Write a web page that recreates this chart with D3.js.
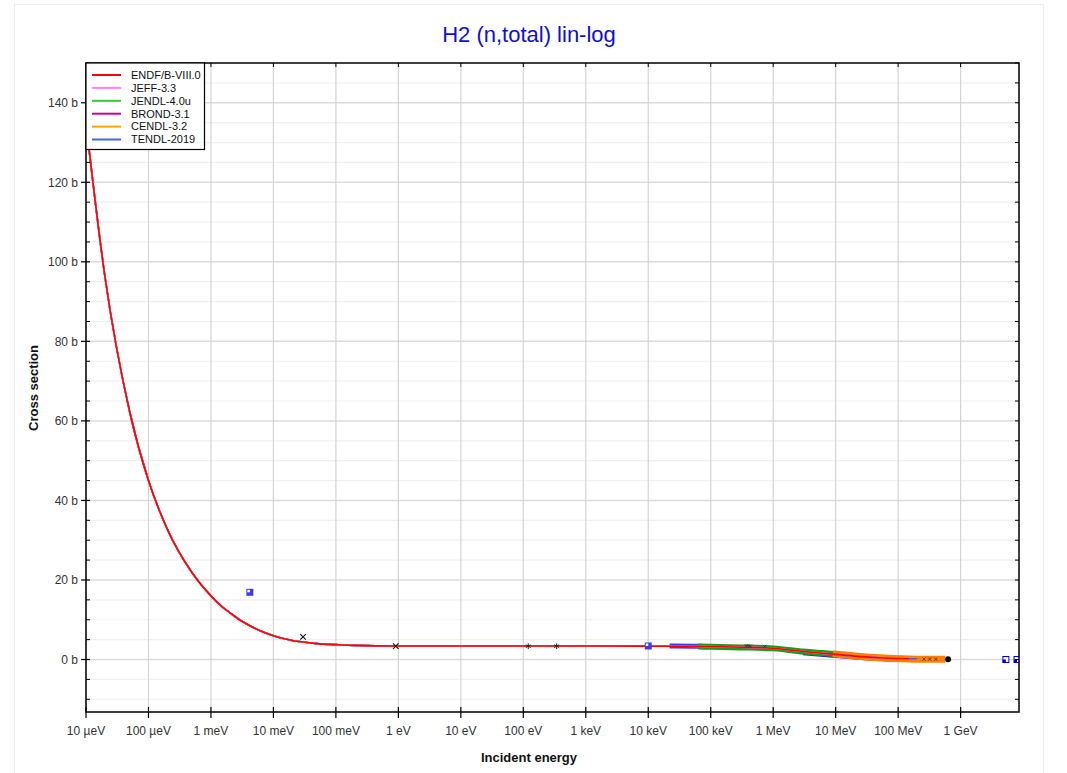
<!DOCTYPE html>
<html><head><meta charset="utf-8">
<script src="https://cdn.jsdelivr.net/npm/d3@7"></script>
<style>
body{margin:0;background:#fff;}
text{font-family:"Liberation Sans",Arial,sans-serif;}
</style></head>
<body><svg id="c" width="1067" height="773"></svg>
<script>
// ---- data ----
const title = "H2 (n,total) lin-log";
const xLabel = "Incident energy";
const yLabel = "Cross section";
const libraries = ["ENDF/B-VIII.0","JEFF-3.3","JENDL-4.0u","BROND-3.1","CENDL-3.2","TENDL-2019"];
const libColors = ["#ff0000","#ff80ff","#33cc33","#cc0099","#ffa500","#4169e1"];
// evaluated total cross section (eV, barn)
const evalE = [1e-5,2e-5,5e-5,1e-4,2e-4,5e-4,1e-3,1.5e-3,2e-3,3e-3,4.2e-3,6e-3,1e-2,1.5e-2,2e-2,3e-2,5e-2,1e-1,2e-1,1,1e3,1e4,1e5,3e5,1e6,2e6,5e6,1e7,2e7,5e7,1e8,1.5e8,2e8];
const evalS = [135,96.5,62.3,45.0,32.8,21.8,16.0,13.3,11.8,9.8,8.5,7.3,6.0,5.2,4.8,4.4,4.0,3.75,3.55,3.4,3.38,3.35,3.27,3.1,2.85,2.35,1.7,1.3,0.85,0.45,0.25,0.2,0.18];
const libMaxE = [1.5e8,1.5e8,2e7,2e7,2e7,2e8];
// experimental data drawn as dense bands
const bandBlue1E = [2.2e4,5e4,1e5,1.5e5];
const bandBlue1S = [3.38,3.35,3.27,3.25];
const bandBlue2E = [4e5,7e5,1e6];
const bandBlue2S = [3.1,3.0,2.85];
const bandBlue3E = [3e6,1e7,3e7,1e8,1.6e8];
const bandBlue3S = [1.8,1.15,0.55,0.15,0.1];
const bandGreenE = [6.3e4,1e5,3e5,1e6,3e6,1e7];
const bandGreenS = [3.25,3.22,3.05,2.8,2.0,1.35];
const bandOrangeE = [9e6,2e7,5e7,1.5e8,3e8,5.7e8];
const bandOrangeS = [1.45,0.9,0.45,0.15,0.08,0.05];
// experimental points
const crossE = [0.0298,0.908];
const crossS = [5.7,3.35];
const smallE = [3.7e5,4.0e5,4.3e5,7.3e5,2.6e8,3.2e8,4.0e8];
const smallS = [3.45,3.4,3.35,3.3,0.1,0.1,0.08];
const starE = [120,342];
const starS = [3.35,3.35];
const dotE = [6.3e8];
const dotS = [0.05];
const squareE = [4.2e-3,1e4];
const squareS = [16.9,3.4];
const openSquareE = [5.3e9,8e9];
const openSquareS = [0.0,0.0];
// axis ticks
const xTicks = [1e-5,1e-4,1e-3,1e-2,1e-1,1,1e1,1e2,1e3,1e4,1e5,1e6,1e7,1e8,1e9];
const xTickLabels = ["10 µeV","100 µeV","1 meV","10 meV","100 meV","1 eV","10 eV","100 eV","1 keV","10 keV","100 keV","1 MeV","10 MeV","100 MeV","1 GeV"];
const yTicks = [0,20,40,60,80,100,120,140];
const yTickLabels = ["0 b","20 b","40 b","60 b","80 b","100 b","120 b","140 b"];
const yMinor = [-10,-5,5,10,15,25,30,35,45,50,55,65,70,75,85,90,95,105,110,115,125,130,135,145,150];

// ---- layout ----
const svg = d3.select("#c");
const L=86, R=1019, T=63, B=712;
const x = d3.scaleLog().domain([1e-5,8.6e9]).range([L,R]);
const y = d3.scaleLinear().domain([-13.2,150]).range([B,T]);

svg.append("rect").attr("x",14.5).attr("y",4.5).attr("width",1029).attr("height",780)
  .attr("fill","none").attr("stroke","#ececec");

const g = svg.append("g");
g.selectAll(".ym").data(yMinor.filter(v=>v>-13.2&&v<150)).join("line")
  .attr("x1",L).attr("x2",R).attr("y1",d=>y(d)).attr("y2",d=>y(d))
  .attr("stroke","#f0f0f0").attr("stroke-width",1.2);
g.selectAll(".yM").data(yTicks).join("line")
  .attr("x1",L).attr("x2",R).attr("y1",d=>y(d)).attr("y2",d=>y(d))
  .attr("stroke","#dcdcdc").attr("stroke-width",1.5);
g.selectAll(".xM").data(xTicks).join("line")
  .attr("x1",d=>x(d)).attr("x2",d=>x(d)).attr("y1",T).attr("y2",B)
  .attr("stroke","#d4d4d4").attr("stroke-width",1.2);

svg.append("clipPath").attr("id","pc").append("rect")
  .attr("x",L).attr("y",T).attr("width",R-L).attr("height",B-T);
const plot = svg.append("g").attr("clip-path","url(#pc)");

const line = d3.line().x(d=>x(d[0])).y(d=>y(d[1])).curve(d3.curveMonotoneX);
const zip = (a,b)=>a.map((v,i)=>[v,b[i]]);

function band(E,S,col,w){
  plot.append("path").datum(zip(E,S)).attr("d",line).attr("fill","none")
    .attr("stroke",col).attr("stroke-width",w).attr("stroke-linecap","butt");
}
band(bandBlue1E,bandBlue1S,"#3b3bf0",5);
band(bandBlue2E,bandBlue2S,"#3b3bf0",4);
band(bandBlue3E,bandBlue3S,"#2020c8",6);
band(bandGreenE,bandGreenS,"#1a9c1a",6);
band(bandOrangeE,bandOrangeS,"#ff8000",7);

const libPts = libraries.map((n,i)=>zip(evalE,evalS).filter(p=>p[0]<=libMaxE[i]));
for(let i=libraries.length-1;i>=0;i--){
  plot.append("path").datum(libPts[i]).attr("d",line).attr("fill","none")
    .attr("stroke",libColors[i]).attr("stroke-width",1.6);
}

plot.selectAll(".cx").data(zip(crossE,crossS)).join("path")
  .attr("transform",d=>`translate(${x(d[0])},${y(d[1])})`)
  .attr("d",d3.symbol(d3.symbolTimes,22)).attr("fill","none").attr("stroke","#111").attr("stroke-width",1.1);
plot.selectAll(".sm").data(zip(smallE,smallS)).join("path")
  .attr("transform",d=>`translate(${x(d[0])},${y(d[1])})`)
  .attr("d",d3.symbol(d3.symbolTimes,8)).attr("fill","none").attr("stroke","#333").attr("stroke-width",0.9);
plot.selectAll(".st").data(zip(starE,starS)).join("path")
  .attr("transform",d=>`translate(${x(d[0])},${y(d[1])})`)
  .attr("d",d3.symbol(d3.symbolAsterisk,22)).attr("fill","none").attr("stroke","#222").attr("stroke-width",1);
plot.selectAll(".dt").data(zip(dotE,dotS)).join("path")
  .attr("transform",d=>`translate(${x(d[0])},${y(d[1])})`)
  .attr("d",d3.symbol(d3.symbolCircle,28)).attr("fill","#000");
const sq = plot.selectAll(".sq").data(zip(squareE,squareS)).join("g")
  .attr("transform",d=>`translate(${x(d[0])},${y(d[1])})`);
sq.append("rect").attr("x",-3.5).attr("y",-3.5).attr("width",7).attr("height",7).attr("fill","#3b3bf0");
sq.append("rect").attr("x",-2.5).attr("y",-2.5).attr("width",2.5).attr("height",2.5).attr("fill","#fff");
const osq = plot.selectAll(".osq").data(zip(openSquareE,openSquareS)).join("g")
  .attr("transform",d=>`translate(${x(d[0])},${y(d[1])})`);
osq.append("rect").attr("x",-3).attr("y",-3).attr("width",6).attr("height",6)
  .attr("fill","#fff").attr("stroke","#0000c0").attr("stroke-width",1);
osq.append("rect").attr("x",-3).attr("y",0).attr("width",3).attr("height",3).attr("fill","#0000c0");

const ax = svg.append("g");
ax.append("rect").attr("x",L).attr("y",T).attr("width",R-L).attr("height",B-T)
  .attr("fill","none").attr("stroke","#000").attr("stroke-width",1.5);
ax.selectAll(".lt").data(yTicks).join("line")
  .attr("x1",L-5).attr("x2",L+4).attr("y1",d=>y(d)).attr("y2",d=>y(d)).attr("stroke","#000").attr("stroke-width",1.2);
ax.selectAll(".lm").data(yMinor).join("line")
  .attr("x1",L).attr("x2",L+4).attr("y1",d=>y(d)).attr("y2",d=>y(d)).attr("stroke","#000").attr("stroke-width",1);
ax.selectAll(".rt").data(yTicks.concat(yMinor)).join("line")
  .attr("x1",R-4).attr("x2",R).attr("y1",d=>y(d)).attr("y2",d=>y(d)).attr("stroke","#000").attr("stroke-width",1);
ax.selectAll(".bt").data(xTicks).join("line")
  .attr("x1",d=>x(d)).attr("x2",d=>x(d)).attr("y1",B-5).attr("y2",B+6).attr("stroke","#000").attr("stroke-width",1.2);
ax.selectAll(".tt").data(xTicks).join("line")
  .attr("x1",d=>x(d)).attr("x2",d=>x(d)).attr("y1",T).attr("y2",T+4).attr("stroke","#000").attr("stroke-width",1);
ax.selectAll(".yl").data(yTicks).join("text")
  .attr("x",L-8).attr("y",d=>y(d)).attr("dy","0.35em").attr("text-anchor","end")
  .attr("font-size",12).attr("fill","#333").text((d,i)=>yTickLabels[i]);
ax.selectAll(".xl").data(xTicks).join("text")
  .attr("x",d=>x(d)).attr("y",B+23).attr("text-anchor","middle")
  .attr("font-size",12).attr("fill","#333").text((d,i)=>xTickLabels[i]);

svg.append("text").attr("x",529).attr("y",42).attr("text-anchor","middle")
  .attr("font-size",22).attr("fill","#1010d0").text(title);
svg.append("text").attr("x",529).attr("y",762).attr("text-anchor","middle")
  .attr("font-size",13).attr("font-weight","bold").attr("fill","#111").text(xLabel);
svg.append("text").attr("transform","translate(38,388) rotate(-90)").attr("text-anchor","middle")
  .attr("font-size",13).attr("font-weight","bold").attr("fill","#111").text(yLabel);

const lg = svg.append("g");
lg.append("rect").attr("x",L).attr("y",T).attr("width",118.5).attr("height",86.5)
  .attr("fill","#fff").attr("stroke","#000").attr("stroke-width",1.2);
libraries.forEach((n,i)=>{
  const yy = T+12+i*12.9;
  lg.append("line").attr("x1",92).attr("x2",121).attr("y1",yy).attr("y2",yy)
    .attr("stroke",libColors[i]).attr("stroke-width",2);
  lg.append("text").attr("x",131).attr("y",yy).attr("dy","0.35em")
    .attr("font-size",11).attr("fill","#111").text(n);
});
</script></body></html>
